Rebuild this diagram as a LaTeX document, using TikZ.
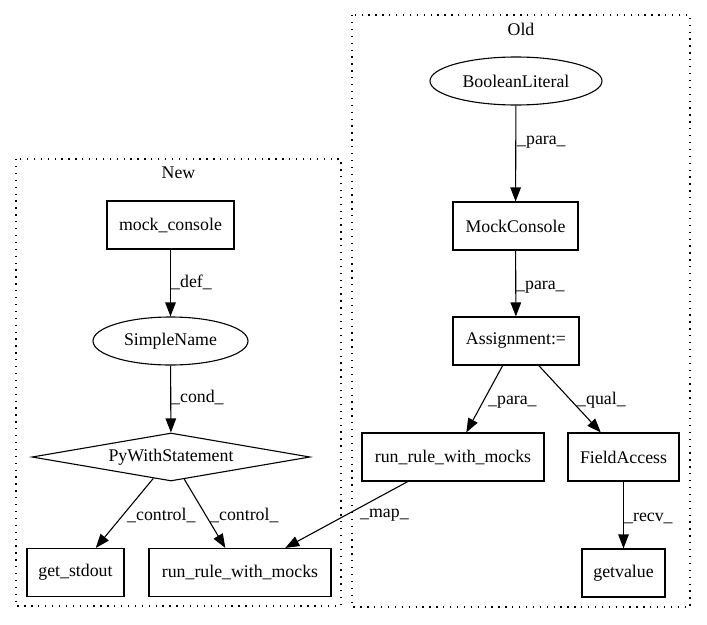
\documentclass[tikz,border=0pt]{standalone}
\usepackage{fontspec}
\setmainfont{Liberation Serif}
\usetikzlibrary{shapes.geometric,arrows.meta}
\begin{document}
\begin{tikzpicture}[x=1pt,y=-1pt,
  every node/.style={font=\fontsize{17.8}{20}\selectfont},
  box/.style={draw,rectangle,line width=1.1pt,inner sep=0pt,minimum height=48pt},
  oval/.style={draw,ellipse,line width=1.1pt,inner sep=0pt,minimum height=48pt},
  dia/.style={draw,diamond,line width=1.1pt,inner sep=0pt,aspect=5.79,minimum width=278pt,minimum height=48pt},
  cluster/.style={draw,line width=1.1pt,dash pattern=on 1.3pt off 5.6pt},
  edge/.style={draw,line width=1.1pt,-{Triangle[length=14pt,width=10.5pt]}},
  lbl/.style={anchor=west,inner sep=0pt,text height=12pt,text depth=4pt},
  ctitle/.style={inner sep=0pt,text height=12pt,text depth=4pt}]
\useasboundingbox (0,0) rectangle (707,624);
% clusters
\draw[cluster] (16,159) rectangle (341,606);
\draw[cluster] (352,15) rectangle (690,607);
\node[ctitle] (tnew) at (178.5,174) {New};
\node[ctitle] (told) at (521,31) {Old};
% Old nodes
\node[oval,minimum width=172pt] (bl) at (516,81) {BooleanLiteral};
\node[box,minimum width=125pt] (mc) at (515.5,226) {MockConsole};
\node[box,minimum width=126pt] (asg) at (516,341) {Assignment:=};
\node[box,minimum width=182pt] (runold) at (453,457) {run\_rule\_with\_mocks};
\node[box,minimum width=111pt] (fa) at (623.5,457) {FieldAccess};
\node[box,minimum width=83pt] (gv) at (623.5,573) {getvalue};
% New nodes
\node[box,minimum width=127pt] (mcs) at (170.5,225) {mock\_console};
\node[oval,minimum width=155pt] (sn) at (170.5,341) {SimpleName};
\node[dia] (pw) at (171,457) {PyWithStatement};
\node[box,minimum width=97pt] (gs) at (75.5,572.5) {get\_stdout};
\node[box,minimum width=182pt] (runnew) at (240,572.5) {run\_rule\_with\_mocks};
% edges
\draw[edge] (bl) -- (mc);
\draw[edge] (mc) -- (asg);
\draw[edge] (asg) -- (runold);
\draw[edge] (asg) -- (fa);
\draw[edge] (fa) -- (gv);
\draw[edge] (mcs) -- (sn);
\draw[edge] (sn) -- (pw);
\draw[edge] (pw) -- (gs);
\draw[edge] (pw) -- (runnew);
\draw[edge] (runold) -- (runnew);
% edge labels
\node[lbl] (l1) at (517,140) {\_para\_};
\node[lbl] (l2) at (516,285) {\_para\_};
\node[lbl] (l3) at (488,400) {\_para\_};
\node[lbl] (l4) at (577,400) {\_qual\_};
\node[lbl] (l5) at (624,517) {\_recv\_};
\node[lbl] (l6) at (360,513) {\_map\_};
\node[lbl] (l7) at (171,283) {\_def\_};
\node[lbl] (l8) at (171,398) {\_cond\_};
\node[lbl] (l9) at (127,516) {\_control\_};
\node[lbl] (l10) at (210,516) {\_control\_};
\end{tikzpicture}
\end{document}
